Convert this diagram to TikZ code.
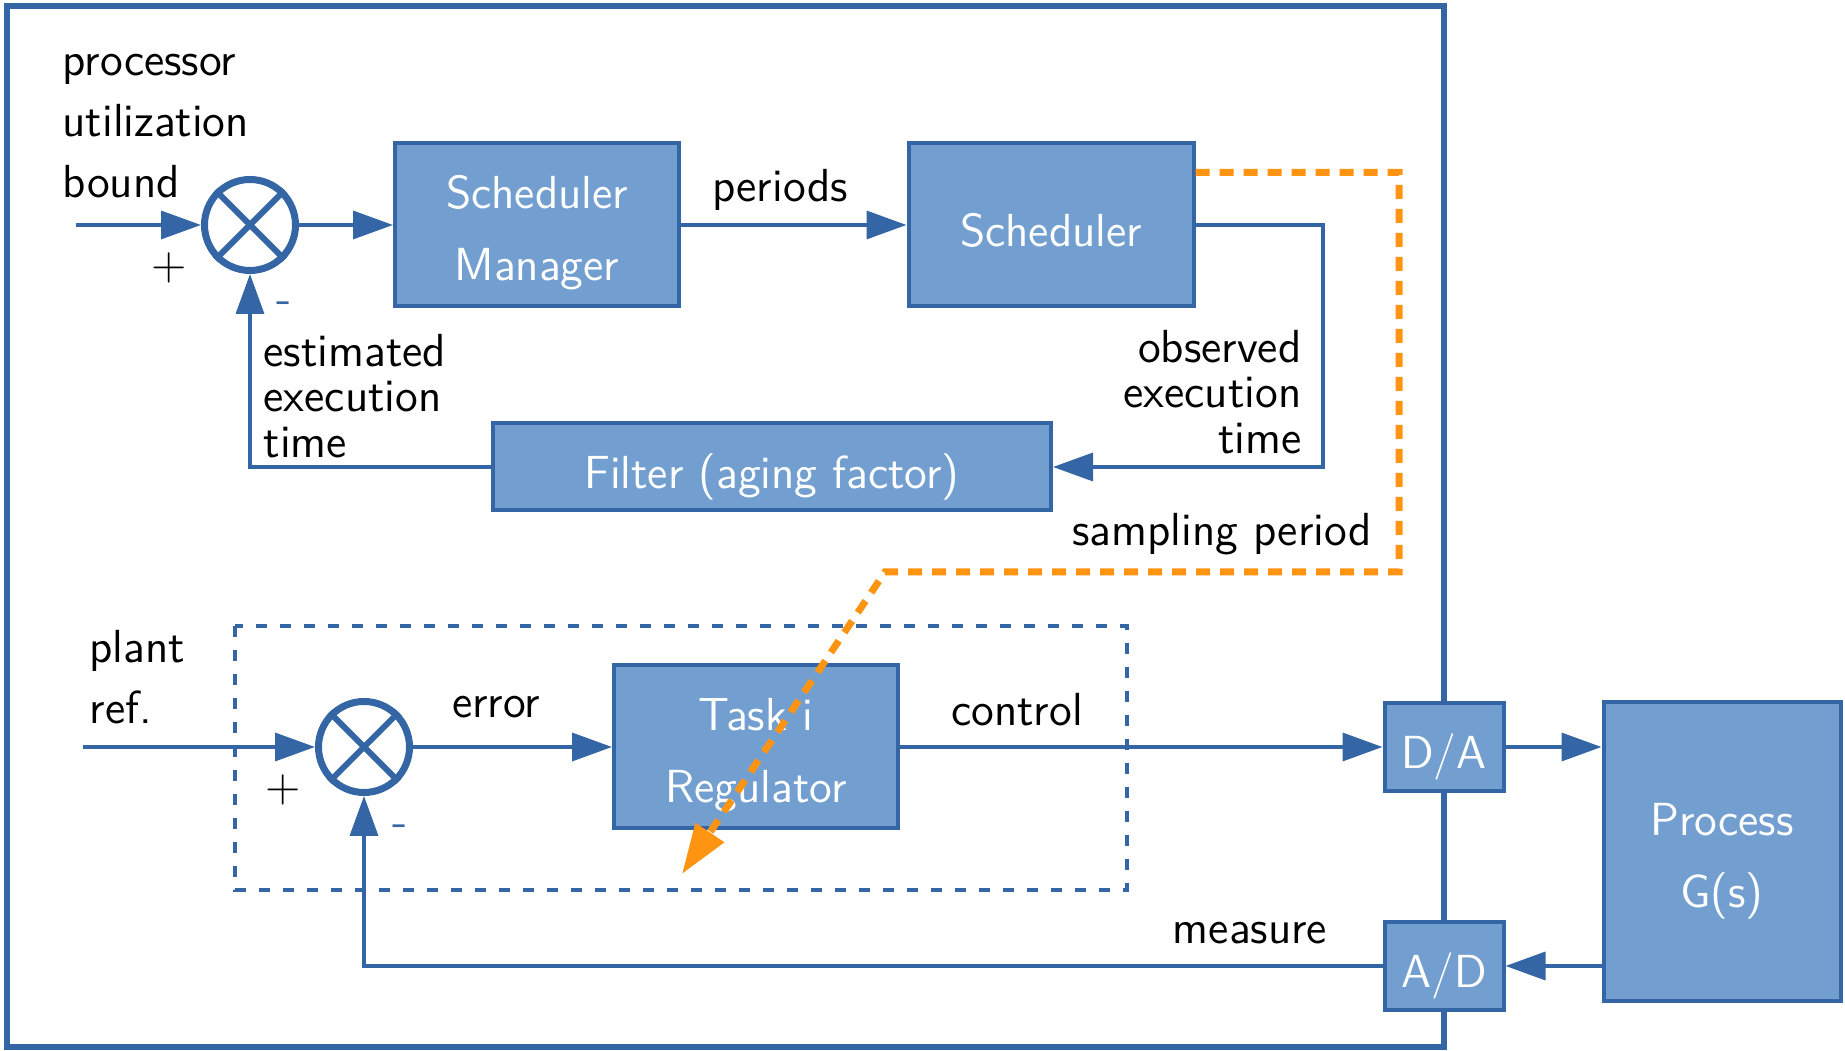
\documentclass[tikz,border=0pt]{standalone}
\usepackage{tikz}
\usetikzlibrary{arrows.meta,positioning}
\definecolor{blockfill}{HTML}{729FCF}
\definecolor{blockdraw}{HTML}{3465A4}
\definecolor{sampcol}{HTML}{FF9412}
\tikzstyle{line} = [draw=blockdraw, line width=0.35mm, -{Triangle[length=4mm,width=2.8mm]}]
\tikzstyle{frame} = [draw=blockdraw, line width=0.6mm]
\tikzstyle{taskframe} = [draw=blockdraw, line width=0.45mm, dash pattern=on 1.1mm off 1.3mm]
\tikzstyle{sampling} = [draw=sampcol, line width=0.7mm, dash pattern=on 1.4mm off 1mm, -{Triangle[length=5mm,width=3.3mm]}]
\tikzstyle{block} = [rectangle, draw=blockdraw, fill=blockfill, line width=0.4mm, text=white, align=center, font=\sffamily\fontsize{13.2}{20.5}\selectfont]
\tikzstyle{block1} = [block, text height=4.4mm, text depth=0mm]
\tikzstyle{block2} = [block, text height=11.2mm, text depth=-1.1mm]
\tikzstyle{sumnode} = [circle, draw=blockdraw, line width=0.7mm, minimum size=9.1mm, inner sep=0pt]
\tikzstyle{cross} = [draw=blockdraw, line width=0.6mm]
\tikzstyle{lbl} = [inner sep=0pt, font=\sffamily\fontsize{13.2}{17.4}\selectfont]
\tikzstyle{lbltight} = [inner sep=0pt, font=\sffamily\fontsize{13.2}{12.9}\selectfont]
\tikzstyle{sign} = [inner sep=0pt, font=\sffamily\fontsize{13.2}{16}\selectfont]

\begin{document}
\begin{tikzpicture}[x=0.1mm, y=-0.1mm]
\useasboundingbox (0,0) rectangle (1845,1051);
\draw [frame] (7,6) rectangle (1444,1047);
\draw [taskframe] (235,626) rectangle (1127,890);

% scheduler loop
\node [sumnode] (sum1) at (250,225) {};
\draw [cross] (sum1.north west) -- (sum1.south east) (sum1.north east) -- (sum1.south west);
\node [block2, minimum width=28.4mm, minimum height=16.3mm] (mgr) at (537,225) {Scheduler\\Manager};
\node [block1, minimum width=28.5mm, minimum height=16.3mm] (sched) at (1051,225) {Scheduler};
\node [block1, minimum width=55.8mm, minimum height=8.7mm] (filt) at (772,467) {Filter (aging factor)};

\node [lbl, align=left, anchor=west] (bound) at (62,126) {processor\\utilization\\bound};
\node [sign] (plus1) at (169,268) {+};
\node [sign, text=blockdraw] (minus1) at (284,308) {-};
\node [lbl] (periods) at (780,190) {periods};
\node [lbltight, align=right, anchor=east] (obs) at (1302,392) {observed\\execution\\time};
\node [lbltight, align=left, anchor=west] (est) at (263,396) {estimated\\execution\\time};

\coordinate (in1) at (76,225);
\coordinate (obscorner) at (1323,467);
\path [line] (in1) -- (sum1.west);
\path [line] (sum1.east) -- (mgr.west);
\path [line] (mgr.east) -- (sched.west);
\path [line] (sched.east) -| (obscorner) -- (filt.east);
\path [line] (filt.west) -| (sum1.south);

% control loop
\node [sumnode] (sum2) at (364,747) {};
\draw [cross] (sum2.north west) -- (sum2.south east) (sum2.north east) -- (sum2.south west);
\node [block2, minimum width=28.4mm, minimum height=16.3mm] (task) at (756,747) {Task i\\Regulator};
\node [block1, minimum width=11.9mm, minimum height=8.8mm] (da) at (1444,747) {D/A};
\node [block1, minimum width=11.9mm, minimum height=8.8mm] (ad) at (1444,966) {A/D};
\node [block2, minimum width=23.7mm, minimum height=29.9mm] (proc) at (1722,852) {Process\\G(s)};

\node [lbl, align=left, anchor=west] (plant) at (89,677) {plant\\ref.};
\node [sign] (plus2) at (283,790) {+};
\node [sign, text=blockdraw] (minus2) at (400,831) {-};
\node [lbl] (error) at (496,707) {error};
\node [lbl] (control) at (1017,710) {control};
\node [lbl] (measure) at (1250,933) {measure};
\node [lbl] (samplbl) at (1222,534) {sampling period};

\coordinate (in2) at (83,747);
\path [line] (in2) -- (sum2.west);
\path [line] (sum2.east) -- (task.west);
\path [line] (task.east) -- (da.west);
\path [line] (da.east) -- (da.east -| proc.west);
\path [line] (proc.west |- ad.east) -- (ad.east);
\path [line] (ad.west) -| (sum2.south);

% sampling period
\coordinate (sp1) at (1399,572);
\coordinate (sp2) at (885,572);
\coordinate (samptip) at (682,874);
\path [sampling] (sched.20) -| (sp1) -- (sp2) -- (samptip);
\end{tikzpicture}
\end{document}
